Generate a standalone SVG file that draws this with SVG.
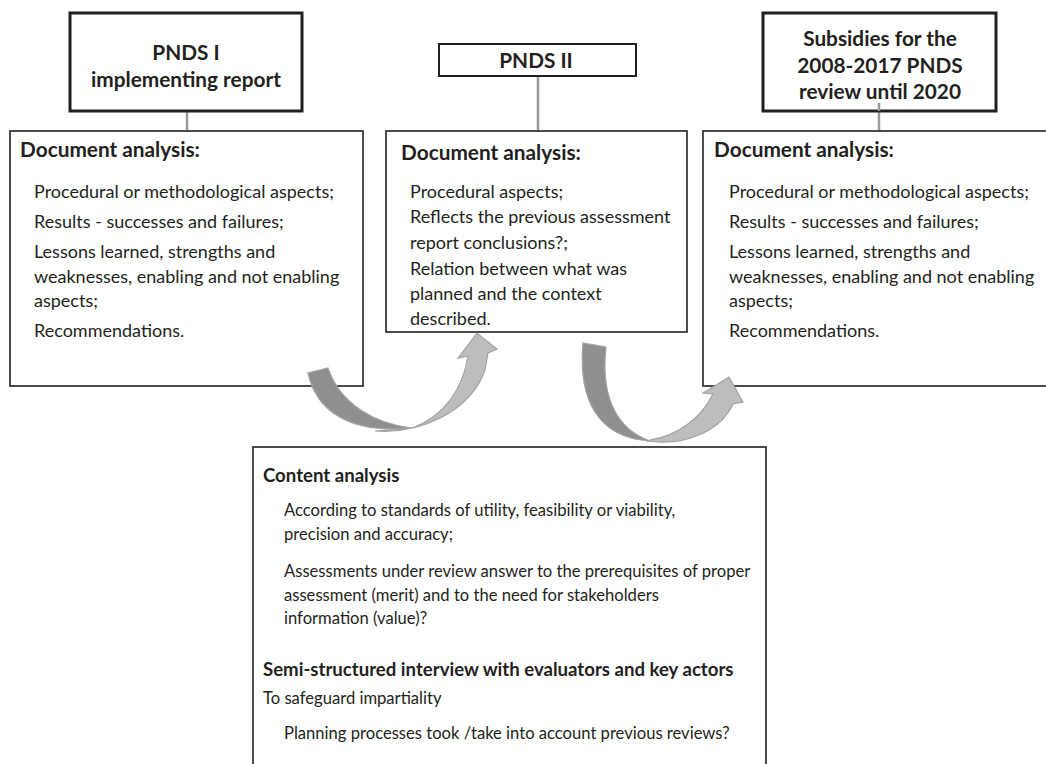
<svg xmlns="http://www.w3.org/2000/svg" width="1046" height="764" viewBox="0 0 1046 764">
<style>
.t{font-family:Lato,"Liberation Sans",sans-serif;font-size:18px;fill:#231f20}
.s{font-family:Lato,"Liberation Sans",sans-serif;font-size:16.6px;fill:#231f20}
.b{font-family:Lato,"Liberation Sans",sans-serif;font-size:20.8px;font-weight:bold;fill:#231f20}
.bs{font-family:Lato,"Liberation Sans",sans-serif;font-size:18.6px;font-weight:bold;fill:#231f20}
.tb{fill:#fff;stroke:#231f20;stroke-width:3}
.db{fill:#fff;stroke:#231f20;stroke-width:1.6}
.ln{stroke:#9a9a9a;stroke-width:2.5;fill:none}
.dk{fill:#8f8f8f;stroke:#a3a3a3;stroke-width:1.2}
.lt{fill:#bdbdbd;stroke:#a3a3a3;stroke-width:1.2}
</style>
<g id="connectors">
<line class="ln" x1="187" y1="111" x2="187" y2="131"/>
<line class="ln" x1="538" y1="76" x2="538" y2="131"/>
<line class="ln" x1="879" y1="103" x2="879" y2="131"/>
</g>
<g id="title1">
<rect class="tb" x="70" y="13" width="232" height="98"/>
<text class="b" x="186" y="60" text-anchor="middle">PNDS I</text>
<text class="b" x="186" y="87" text-anchor="middle">implementing report</text>
</g>
<g id="title2">
<rect class="tb" x="439" y="44" width="197" height="32" style="stroke-width:2"/>
<text class="b" x="536" y="68" text-anchor="middle">PNDS II</text>
</g>
<g id="title3">
<rect class="tb" x="763" y="13" width="233" height="98"/>
<text class="b" x="880" y="46" text-anchor="middle">Subsidies for the</text>
<text class="b" x="880" y="73" text-anchor="middle">2008-2017 PNDS</text>
<text class="b" x="880" y="99" text-anchor="middle">review until 2020</text>
</g>
<line class="ln" x1="879" y1="103" x2="879" y2="111"/>
<g id="doc1">
<rect class="db" x="10" y="131" width="353" height="255"/>
<text class="b" x="20" y="157">Document analysis:</text>
<text class="t" x="34" y="198">Procedural or methodological aspects;</text>
<text class="t" x="34" y="228">Results - successes and failures;</text>
<text class="t" x="34" y="258">Lessons learned, strengths and</text>
<text class="t" x="34" y="283">weaknesses, enabling and not enabling</text>
<text class="t" x="34" y="307">aspects;</text>
<text class="t" x="34" y="337">Recommendations.</text>
</g>
<g id="doc2">
<rect class="db" x="386" y="131" width="301" height="201"/>
<text class="b" x="401" y="160">Document analysis:</text>
<text class="t" x="410" y="198">Procedural aspects;</text>
<text class="t" x="410" y="223">Reflects the previous assessment</text>
<text class="t" x="410" y="249">report conclusions?;</text>
<text class="t" x="410" y="275">Relation between what was</text>
<text class="t" x="410" y="300">planned and the context</text>
<text class="t" x="410" y="325">described.</text>
</g>
<g id="doc3">
<rect class="db" x="703" y="131" width="360" height="255"/>
<text class="b" x="714" y="157">Document analysis:</text>
<text class="t" x="729" y="198">Procedural or methodological aspects;</text>
<text class="t" x="729" y="228">Results - successes and failures;</text>
<text class="t" x="729" y="258">Lessons learned, strengths and</text>
<text class="t" x="729" y="283">weaknesses, enabling and not enabling</text>
<text class="t" x="729" y="307">aspects;</text>
<text class="t" x="729" y="337">Recommendations.</text>
</g>
<g id="content">
<rect class="db" x="253" y="447" width="513" height="330"/>
<text class="bs" x="263" y="482">Content analysis</text>
<text class="s" x="284" y="516">According to standards of utility, feasibility or viability,</text>
<text class="s" x="284" y="540">precision and accuracy;</text>
<text class="s" x="284" y="577">Assessments under review answer to the prerequisites of proper</text>
<text class="s" x="284" y="601">assessment (merit) and  to the need for stakeholders</text>
<text class="s" x="284" y="624">information (value)?</text>
<text class="bs" x="263" y="676">Semi-structured interview with evaluators and key actors</text>
<text class="s" x="263" y="704">To safeguard impartiality</text>
<text class="s" x="284" y="739">Planning processes took /take into account previous reviews?</text>
</g>
<g id="arrow1">
<path class="lt" d="M375,431 C420,434 470,412 485,370 L488,353 L497,349 L477,333 L458,358 L468,356 C463,388 445,416 412,428 Z"/>
<path class="dk" d="M308,373 C316,410 348,434 412,428 C375,424 340,404 328,368 Z"/>
</g>
<g id="arrow2">
<path class="lt" d="M646,441 C690,447 722,428 733,404 L743,402 L729,377 L703,393 L713,394 C700,420 676,436 650,440 Z"/>
<path class="dk" d="M583,343 C578,400 598,438 650,441 C620,430 600,402 606,347 Z"/>
</g>
</svg>
